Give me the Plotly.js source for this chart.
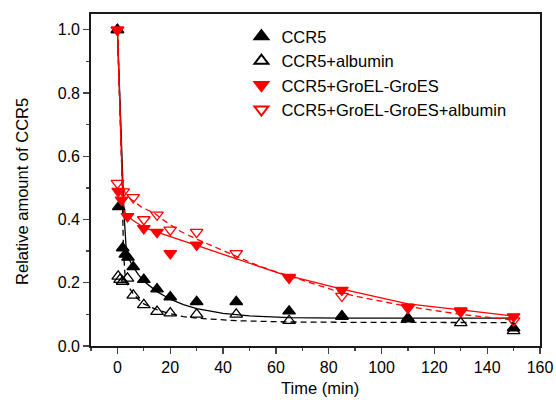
<!DOCTYPE html>
<html>
<head>
<meta charset="utf-8">
<script src="https://cdn.plot.ly/plotly-3.0.1.min.js"></script>
<style>html,body{margin:0;padding:0;background:#fff}#chart{width:556px;height:402px}</style>
</head>
<body>
<div id="chart"></div>
<script>
// Measured data
var ccr5X = [0, 0.5, 2, 3, 4, 6, 10, 15, 20, 30, 45, 65, 85, 110, 150];
var ccr5Y = [1.0, 0.44, 0.31, 0.29, 0.28, 0.25, 0.21, 0.18, 0.155, 0.14, 0.14, 0.11, 0.095, 0.085, 0.057];

var albX = [0, 0.3, 1, 2, 3.8, 6, 10, 15, 20, 30, 45, 65, 85, 110, 130, 150];
var albY = [1.0, 0.22, 0.21, 0.204, 0.214, 0.16, 0.13, 0.109, 0.104, 0.1, 0.1, 0.08, 0.093, 0.088, 0.073, 0.048];

var groX = [0, 0.3, 1.6, 3.8, 10, 15, 20, 30, 65, 85, 110, 130, 150];
var groY = [1.0, 0.49, 0.462, 0.41, 0.372, 0.36, 0.293, 0.32, 0.215, 0.177, 0.124, 0.112, 0.093];

var groAlbX = [0, 0, 2.2, 6, 10, 15, 20, 30, 45, 65, 85, 110, 130, 150];
var groAlbY = [1.0, 0.515, 0.488, 0.47, 0.40, 0.415, 0.367, 0.36, 0.293, 0.218, 0.158, 0.12, 0.108, 0.08];

// Fit curves
var fitCcr5X = [0, 1.5, 2.5, 3.3, 4, 5, 6, 8, 10, 15, 20, 25, 30, 40, 50, 65, 85, 110, 150];
var fitCcr5Y = [1.0, 0.62, 0.42, 0.31, 0.285, 0.265, 0.25, 0.225, 0.205, 0.172, 0.148, 0.131, 0.118, 0.103, 0.095, 0.09, 0.088, 0.088, 0.088];

var fitAlbX = [0, 1.5, 2.3, 3, 4, 6, 8, 10, 15, 20, 25, 30, 45, 65, 85, 110, 150];
var fitAlbY = [1.0, 0.62, 0.3, 0.21, 0.19, 0.165, 0.147, 0.133, 0.115, 0.102, 0.093, 0.088, 0.08, 0.076, 0.075, 0.075, 0.074];

var fitGroX = [0, 1.5, 2.1, 3, 4, 6, 10, 15, 20, 24, 30, 45, 62, 85, 110, 130, 150];
var fitGroY = [1.0, 0.62, 0.45, 0.42, 0.41, 0.397, 0.375, 0.36, 0.345, 0.335, 0.318, 0.275, 0.228, 0.18, 0.133, 0.114, 0.095];

var fitGroAlbX = [0, 1.2, 1.8, 3, 5, 9, 14, 18, 24, 30, 38, 45, 53, 60, 65, 85, 91, 110, 130, 150];
var fitGroAlbY = [1.0, 0.7, 0.52, 0.48, 0.465, 0.44, 0.42, 0.395, 0.362, 0.338, 0.31, 0.285, 0.255, 0.235, 0.222, 0.168, 0.156, 0.125, 0.1, 0.082];

var names = ['CCR5', 'CCR5+albumin', 'CCR5+GroEL-GroES', 'CCR5+GroEL-GroES+albumin'];
var xTitle = 'Time (min)';
var yTitle = 'Relative amount of CCR5';

function fit(x, y, color, dash) {
  return {x: x, y: y, mode: 'lines', type: 'scatter', showlegend: false, hoverinfo: 'skip',
    line: {color: color, width: 1.3, dash: dash, shape: 'linear'}};
}
function pts(x, y, name, symbol, color) {
  return {x: x, y: y, mode: 'markers', type: 'scatter', name: name,
    marker: {symbol: symbol, size: 11, color: color, line: {color: color, width: 1.3}}};
}

var data = [
  fit(fitCcr5X, fitCcr5Y, '#000', 'solid'),
  fit(fitAlbX, fitAlbY, '#000', '6px,4px'),
  fit(fitGroX, fitGroY, '#ff0000', 'solid'),
  fit(fitGroAlbX, fitGroAlbY, '#ff0000', '6px,4px'),
  pts(ccr5X, ccr5Y, names[0], 'triangle-up', '#000'),
  pts(albX, albY, names[1], 'triangle-up-open', '#000'),
  pts(groX, groY, names[2], 'triangle-down', '#ff0000'),
  pts(groAlbX, groAlbY, names[3], 'triangle-down-open', '#ff0000')
];

var layout = {
  width: 556, height: 402,
  margin: {l: 91, r: 16, t: 14, b: 56},
  paper_bgcolor: '#fff', plot_bgcolor: '#fff',
  font: {family: 'Arial, "Liberation Sans", sans-serif', size: 16, color: '#000'},
  showlegend: true,
  legend: {x: 0.335, y: 0.985, xanchor: 'left', yanchor: 'top', bgcolor: 'rgba(0,0,0,0)',
    font: {size: 16.5}, tracegroupgap: 0, itemsizing: 'constant'},
  xaxis: {
    range: [-10, 160], tick0: 0, dtick: 20, ticks: 'outside', ticklen: 6, tickwidth: 1.3,
    showline: true, mirror: true, linecolor: '#1a1a1a', linewidth: 1.8, showgrid: false, zeroline: false,
    minor: {dtick: 10, tick0: 0, ticks: 'outside', ticklen: 3, tickwidth: 1.3, showgrid: false}
  },
  yaxis: {
    range: [0, 1.05], tick0: 0, dtick: 0.2, tickformat: '.1f', ticks: 'outside', ticklen: 6, tickwidth: 1.3,
    showline: true, mirror: true, linecolor: '#1a1a1a', linewidth: 1.8, showgrid: false, zeroline: false,
    minor: {dtick: 0.1, tick0: 0, ticks: 'outside', ticklen: 3, tickwidth: 1.3, showgrid: false}
  },
  annotations: [
    {text: xTitle, xref: 'paper', yref: 'paper', x: 0.51, y: -0.1265, xanchor: 'center', yanchor: 'middle',
      showarrow: false, font: {size: 16.5}},
    {text: yTitle, xref: 'paper', yref: 'paper', x: -0.1537, y: 0.467, xanchor: 'center', yanchor: 'middle',
      textangle: -90, showarrow: false, font: {size: 16.5}}
  ]
};

Plotly.newPlot('chart', data, layout, {displayModeBar: false, staticPlot: true});
</script>
</body>
</html>
